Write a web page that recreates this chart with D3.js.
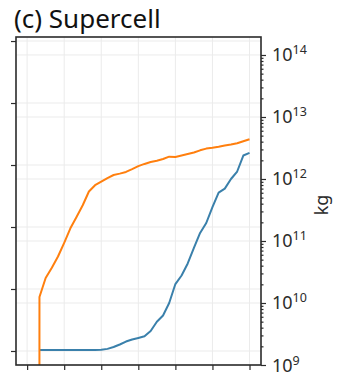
<!DOCTYPE html>
<html>
<head>
<meta charset="utf-8">
<script src="https://cdn.jsdelivr.net/npm/d3@7"></script>
<style>
  html, body { margin: 0; padding: 0; background: #fff; }
  svg { display: block; font-family: "Noto Sans", "DejaVu Sans", sans-serif; }
</style>
</head>
<body>
<svg id="chart" width="341" height="381"></svg>
<script>
// Time axis (hours), one sample every 10 minutes
const timeHours = [
  0.167, 0.333, 0.5, 0.667, 0.833, 1.0, 1.167, 1.333, 1.5, 1.667, 1.833,
  2.0, 2.167, 2.333, 2.5, 2.667, 2.833, 3.0, 3.167, 3.333, 3.5, 3.667,
  3.833, 4.0, 4.167, 4.333, 4.5, 4.667, 4.833, 5.0, 5.167, 5.333, 5.5,
  5.667, 5.833, 6.0
];

// Accumulated mass (kg); null = no data yet
const orangeMass = [
  0, 1.25e10, 2.53e10, 3.71e10, 5.62e10, 9.35e10, 1.60e11, 2.44e11, 3.77e11,
  6.29e11, 7.94e11, 9.08e11, 1.035e12, 1.16e12, 1.22e12, 1.30e12, 1.44e12,
  1.61e12, 1.75e12, 1.88e12, 1.97e12, 2.10e12, 2.29e12, 2.26e12, 2.39e12,
  2.53e12, 2.67e12, 2.90e12, 3.09e12, 3.18e12, 3.31e12, 3.47e12, 3.60e12,
  3.78e12, 4.07e12, 4.38e12
];
const blueMass = [
  null, 1.75e9, 1.75e9, 1.75e9, 1.75e9, 1.75e9, 1.75e9, 1.75e9, 1.75e9,
  1.75e9, 1.75e9, 1.76e9, 1.82e9, 1.95e9, 2.14e9, 2.39e9, 2.58e9, 2.73e9,
  2.90e9, 3.53e9, 4.98e9, 6.28e9, 1.0e10, 2.02e10, 2.78e10, 4.34e10,
  7.71e10, 1.35e11, 1.95e11, 3.53e11, 6.04e11, 7.0e11, 1.0e12, 1.32e12,
  2.39e12, 2.63e12
];

const xTicks = [0, 1, 2, 3, 4, 5, 6];
const leftTicks = [0, 1, 2, 3, 4, 5];
const rightExponents = [9, 10, 11, 12, 13, 14];
const titleText = "(c) Supercell";
const rightLabel = "kg";

const svg = d3.select("#chart");
const plot = { left: 16, right: 261, top: 37, bottom: 365 };
const ink = "#2b2b2b";
const gridColor = "#ebebeb";

const x = d3.scaleLinear().domain([-0.3, 6.31]).range([plot.left, plot.right]);
const yR = d3.scaleLog().domain([1e9, 1.95e14]).range([plot.bottom, plot.top]);
const yL = d3.scaleLinear().domain([-0.226, 5.065]).range([plot.bottom, plot.top]);

// Grid lines
const grid = svg.append("g");
grid.selectAll("line.gx").data(xTicks).join("line")
  .attr("x1", d => x(d)).attr("x2", d => x(d))
  .attr("y1", plot.top).attr("y2", plot.bottom)
  .attr("stroke", gridColor).attr("stroke-width", 1);
grid.selectAll("line.gl").data(leftTicks).join("line")
  .attr("x1", plot.left).attr("x2", plot.right)
  .attr("y1", d => yL(d)).attr("y2", d => yL(d))
  .attr("stroke", gridColor).attr("stroke-width", 1);
grid.selectAll("line.gr").data(rightExponents).join("line")
  .attr("x1", plot.left).attr("x2", plot.right)
  .attr("y1", d => yR(Math.pow(10, d))).attr("y2", d => yR(Math.pow(10, d)))
  .attr("stroke", gridColor).attr("stroke-width", 1);

// Lines (log axis clips non-positive values to a tiny floor)
svg.append("clipPath").attr("id", "plotClip").append("rect")
  .attr("x", plot.left).attr("y", plot.top)
  .attr("width", plot.right - plot.left).attr("height", plot.bottom - plot.top);

const floor = v => (v > 0 ? v : 1e-300);
const line = d3.line()
  .defined(d => d[1] !== null)
  .x(d => x(d[0]))
  .y(d => yR(floor(d[1])));

const lines = svg.append("g").attr("clip-path", "url(#plotClip)");
lines.append("path")
  .datum(timeHours.map((t, i) => [t, blueMass[i]]))
  .attr("d", line).attr("fill", "none")
  .attr("stroke", "#3a80ab").attr("stroke-width", 2).attr("stroke-linejoin", "round");
lines.append("path")
  .datum(timeHours.map((t, i) => [t, orangeMass[i]]))
  .attr("d", line).attr("fill", "none")
  .attr("stroke", "#ff7f0e").attr("stroke-width", 2).attr("stroke-linejoin", "round");

// Axes
const axisStyle = g => {
  g.select(".domain").remove();
  g.selectAll(".tick line").attr("stroke", ink).attr("stroke-width", 1.2);
};

svg.append("g").attr("transform", `translate(0,${plot.bottom})`)
  .call(d3.axisBottom(x).tickValues(xTicks).tickSize(5).tickFormat(""))
  .call(axisStyle);

svg.append("g").attr("transform", `translate(${plot.left},0)`)
  .call(d3.axisLeft(yL).tickValues(leftTicks).tickSize(5).tickFormat(""))
  .call(axisStyle);

const minors = [];
for (let e = 9; e <= 14; e++) for (let m = 2; m <= 9; m++) {
  const v = m * Math.pow(10, e);
  if (v <= yR.domain()[1]) minors.push(v);
}
svg.append("g").attr("transform", `translate(${plot.right},0)`)
  .call(d3.axisRight(yR).tickValues(minors).tickSize(2.5).tickFormat(""))
  .call(axisStyle);
svg.append("g").attr("transform", `translate(${plot.right},0)`)
  .call(d3.axisRight(yR).tickValues(rightExponents.map(e => Math.pow(10, e))).tickSize(5).tickFormat(""))
  .call(axisStyle);

// Power-of-ten labels
const rl = svg.append("g").selectAll("text").data(rightExponents).join("text")
  .attr("x", plot.right + 11)
  .attr("y", d => yR(Math.pow(10, d)) + 6.5)
  .attr("fill", ink).attr("font-size", 18);
rl.append("tspan").text("10");
rl.append("tspan").attr("dy", -7).attr("font-size", 12.5).text(d => d);

// Frame
svg.append("rect")
  .attr("x", plot.left).attr("y", plot.top)
  .attr("width", plot.right - plot.left).attr("height", plot.bottom - plot.top)
  .attr("fill", "none").attr("stroke", ink).attr("stroke-width", 1.6);

// Axis title and panel title
svg.append("text")
  .attr("transform", `translate(328,${(plot.top + plot.bottom) / 2 + 4}) rotate(-90)`)
  .attr("text-anchor", "middle").attr("fill", ink).attr("font-size", 18)
  .text(rightLabel);

svg.append("text")
  .attr("x", 14).attr("y", 28)
  .attr("fill", "#111").attr("font-size", 26)
  .text(titleText);
</script>
</body>
</html>
